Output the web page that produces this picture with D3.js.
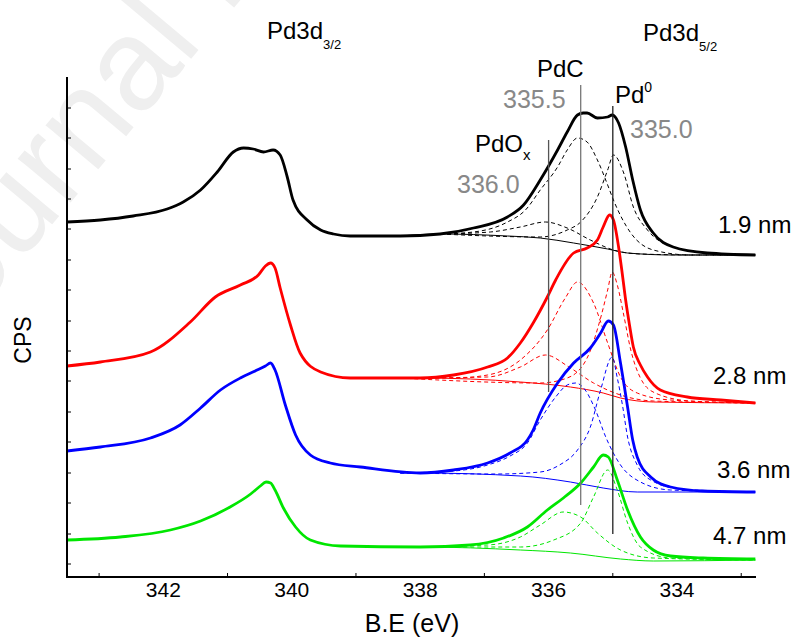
<!DOCTYPE html>
<html>
<head>
<meta charset="utf-8">
<script src="https://cdn.jsdelivr.net/npm/d3@7"></script>
<style>
  body { margin: 0; background: #fff; }
  svg text { font-family: Arial, "Liberation Sans", sans-serif; }
</style>
</head>
<body>
<div id="chart"></div>
<script>
// binding energy (eV) and CPS (arbitrary, offset per film thickness)
const blackTotal = [[343.5,355],[342.98,357],[342.47,361],[341.94,368],[341.69,375],[341.42,387],[341.16,405],[340.91,425],[340.75,429],[340.60,428],[340.44,425],[340.29,427],[340.18,422],[340.07,400],[339.98,377],[339.76,357],[339.55,347],[339.35,343],[339.09,341],[338.31,341],[337.69,343],[337.17,349],[336.64,360],[336.39,372],[336.13,397],[335.86,427],[335.71,445],[335.55,462],[335.46,464],[335.40,464],[335.24,459],[335.08,460],[335.01,462],[334.91,454],[334.80,430],[334.69,397],[334.57,367],[334.37,344],[334.06,330],[333.53,324],[332.78,322]];
const blackBg = [[338.31,341],[337.69,343],[336.64,341],[336.13,339],[335.61,334],[335.08,328],[334.77,324],[334.06,322],[332.78,322]];
const blackPdOx = [[337.69,343],[336.91,345],[336.44,350],[336.05,355],[335.71,349],[335.35,337],[334.99,327],[334.57,323],[333.63,322],[332.78,322]];
const blackPdC = [[337.69,343],[337.17,345],[336.64,355],[336.36,367],[336.13,387],[335.86,410],[335.71,427],[335.55,439],[335.40,435],[335.24,417],[335.08,392],[334.99,377],[334.72,344],[334.37,327],[333.79,322],[332.78,322]];
const blackPd0 = [[337.69,343],[336.13,340],[335.71,347],[335.50,355],[335.24,380],[335.08,407],[334.99,422],[334.83,404],[334.68,370],[334.46,347],[334.06,330],[333.53,324],[332.78,322]];

const redTotal = [[343.5,211],[342.98,215],[342.20,225],[341.58,255],[341.19,280],[340.80,292],[340.52,302],[340.41,311],[340.33,314],[340.26,309],[340.18,289],[340.02,252],[339.87,224],[339.55,205],[339.09,199],[338.0,199],[337.48,202],[336.95,210],[336.64,219],[336.44,234],[336.24,254],[336.02,280],[335.89,297],[335.61,324],[335.40,329],[335.24,337],[335.15,350],[335.05,362],[334.99,357],[334.91,330],[334.85,302],[334.80,277],[334.74,252],[334.68,230],[334.57,212],[334.46,200],[334.26,187],[333.84,180],[333.32,177],[332.78,174]];
const redBg = [[338.31,199],[338.0,199],[336.44,195],[335.66,190],[335.15,184],[334.88,179],[334.37,175],[332.78,174]];
const redPdOx = [[338.31,199],[336.95,200],[336.44,210],[336.05,222],[335.66,209],[335.30,194],[334.88,182],[334.37,176],[332.78,174]];
const redPdC = [[338.31,199],[337.48,199],[336.95,202],[336.44,217],[336.02,247],[335.74,279],[335.55,295],[335.30,274],[335.08,234],[334.88,200],[334.62,184],[334.10,177],[332.78,174]];
const redPd0 = [[338.31,199],[336.13,194],[335.71,199],[335.40,219],[335.19,259],[335.08,287],[335.01,305],[334.93,292],[334.83,262],[334.72,227],[334.57,199],[334.34,184],[333.79,176],[332.78,174]];

const blueTotal = [[343.5,126],[342.98,130],[342.20,139],[341.74,152],[341.42,169],[341.11,187],[340.80,199],[340.57,206],[340.41,211],[340.33,214],[340.26,207],[340.10,172],[339.94,142],[339.71,122],[339.40,114],[338.93,110],[338.0,104],[337.48,107],[336.95,114],[336.60,124],[336.33,137],[336.24,147],[336.13,164],[335.86,194],[335.61,214],[335.35,229],[335.19,244],[335.07,256],[334.99,252],[334.88,214],[334.77,170],[334.69,137],[334.62,120],[334.41,100],[334.10,90],[333.59,86],[332.78,85]];
const blueBg = [[338.31,104],[338.0,104],[336.44,101],[335.66,95],[335.15,89],[334.62,85],[332.78,85]];
const bluePdC = [[338.31,104],[337.48,106],[336.95,112],[336.60,121],[336.33,134],[336.13,157],[335.89,180],[335.71,192],[335.58,194],[335.43,187],[335.27,167],[335.11,140],[334.88,112],[334.57,95],[334.10,87],[332.78,85]];
const bluePd0 = [[338.31,104],[336.80,103],[336.13,105],[335.83,112],[335.55,127],[335.35,150],[335.19,187],[335.01,220],[334.93,199],[334.85,172],[334.77,140],[334.62,112],[334.41,97],[333.95,88],[332.78,85]];

const greenTotal = [[343.5,37],[342.67,40],[341.89,47],[341.42,56],[340.96,70],[340.64,83],[340.49,91],[340.40,95],[340.33,94],[340.26,87],[340.13,69],[339.94,50],[339.71,37],[339.24,31],[338.0,30],[337.22,32],[336.70,39],[336.33,50],[336.02,67],[335.77,79],[335.50,94],[335.30,110],[335.15,122],[335.07,120],[334.93,97],[334.77,67],[334.57,40],[334.37,27],[334.10,21],[333.59,19],[332.78,18]];
const greenBg = [[338.31,30],[338.0,30],[336.44,27],[335.66,24],[334.88,18],[334.37,16],[332.78,17]];
const greenPdC = [[338.31,30],[336.95,32],[336.44,40],[336.13,52],[335.77,65],[335.50,60],[335.24,44],[334.88,27],[334.37,19],[332.78,17]];
const greenPd0 = [[338.31,30],[336.44,30],[335.92,37],[335.50,54],[335.30,80],[335.08,107],[334.93,87],[334.77,54],[334.57,30],[334.10,19],[332.78,17]];

// reference lines: [energy, bottom, top, colour]
const refLines = [[336.0,185,437,"#555"],[335.5,72,492,"#777"],[335.0,43,471,"#222"]];
const xMajorTicks = [342, 340, 338, 336, 334];
const xMinorTicks = [343, 341, 339, 337, 335, 333];
const yTicks = [13, 43, 74, 104, 135, 165, 196, 226, 256, 287, 317, 348, 378, 408, 439, 469];
const thickness = ["1.9 nm", "2.8 nm", "3.6 nm", "4.7 nm"];

function drawChart() {
    const width = 800;
    const height = 639;
    const svg = d3.select("#chart").append("svg")
        .attr("width", width)
        .attr("height", height);

    // faint watermark of the source page
    svg.append("text")
        .attr("transform", "translate(-70,370) rotate(-50)")
        .attr("fill", "#efefef")
        .style("font-size", "130px")
        .text("Journal Pre-proof");

    const x = d3.scaleLinear().domain([343.5, 332.77]).range([67, 756]);
    const y = d3.scaleLinear().domain([0, 500]).range([577, 77]);

    const line = d3.line()
        .x(d => x(d[0]))
        .y(d => y(d[1]))
        .curve(d3.curveMonotoneX);

    const series = [
        { pts: blackBg, color: "#000", w: 1 },
        { pts: blackPdOx, color: "#000", w: 1, dash: "4,3" },
        { pts: blackPdC, color: "#000", w: 1, dash: "4,3" },
        { pts: blackPd0, color: "#000", w: 1, dash: "4,3" },
        { pts: redBg, color: "#f00", w: 1 },
        { pts: redPdOx, color: "#f00", w: 1, dash: "4,3" },
        { pts: redPdC, color: "#f00", w: 1, dash: "4,3" },
        { pts: redPd0, color: "#f00", w: 1, dash: "4,3" },
        { pts: blueBg, color: "#00f", w: 1 },
        { pts: bluePdC, color: "#00f", w: 1, dash: "4,3" },
        { pts: bluePd0, color: "#00f", w: 1, dash: "4,3" },
        { pts: greenBg, color: "#00e600", w: 1 },
        { pts: greenPdC, color: "#00e600", w: 1, dash: "4,3" },
        { pts: greenPd0, color: "#00e600", w: 1, dash: "4,3" },
        { pts: greenTotal, color: "#00e600", w: 2.8 },
        { pts: blueTotal, color: "#00f", w: 2.8 },
        { pts: redTotal, color: "#f00", w: 2.8 },
        { pts: blackTotal, color: "#000", w: 2.8 }
    ];

    svg.append("g").selectAll("path")
        .data(series)
        .enter()
        .append("path")
        .attr("d", d => line(d.pts))
        .attr("fill", "none")
        .attr("stroke", d => d.color)
        .attr("stroke-width", d => d.w)
        .attr("stroke-dasharray", d => d.dash || null)
        .attr("stroke-linejoin", "round");

    // vertical markers
    svg.append("g").selectAll("line")
        .data(refLines)
        .enter()
        .append("line")
        .attr("x1", d => x(d[0]))
        .attr("x2", d => x(d[0]))
        .attr("y1", d => y(d[1]))
        .attr("y2", d => y(d[2]))
        .attr("stroke", d => d[3])
        .attr("stroke-width", 1.3);

    // axes
    const xAxis = svg.append("g").attr("transform", "translate(0,577)");
    xAxis.append("line")
        .attr("x1", 66).attr("x2", 756)
        .attr("stroke", "#000").attr("stroke-width", 2);
    xAxis.selectAll(".minor")
        .data(xMinorTicks)
        .enter()
        .append("line")
        .attr("x1", d => x(d)).attr("x2", d => x(d))
        .attr("y1", 0).attr("y2", -4)
        .attr("stroke", "#000");
    xAxis.selectAll(".lbl")
        .data(xMajorTicks)
        .enter()
        .append("text")
        .attr("x", d => x(d))
        .attr("y", 20)
        .attr("text-anchor", "middle")
        .style("font-size", "21px")
        .text(d => d);

    const yAxis = svg.append("g").attr("transform", "translate(67,0)");
    yAxis.append("line")
        .attr("y1", 77).attr("y2", 578)
        .attr("stroke", "#000").attr("stroke-width", 2);
    yAxis.selectAll(".tick")
        .data(yTicks)
        .enter()
        .append("line")
        .attr("y1", d => y(d)).attr("y2", d => y(d))
        .attr("x1", 0).attr("x2", 4)
        .attr("stroke", "#000");

    svg.append("text")
        .attr("x", 412).attr("y", 632)
        .attr("text-anchor", "middle")
        .style("font-size", "25px")
        .text("B.E (eV)");

    svg.append("text")
        .attr("transform", "translate(31,340) rotate(-90)")
        .attr("text-anchor", "middle")
        .style("font-size", "23px")
        .text("CPS");

    // peak region titles
    const title = (tx, ty, main, sub) => {
        const t = svg.append("text").attr("x", tx).attr("y", ty).style("font-size", "24px");
        t.append("tspan").text(main);
        t.append("tspan").attr("dy", 10).style("font-size", "13px").text(sub);
    };
    title(267, 39, "Pd3d", "3/2");
    title(643, 41, "Pd3d", "5/2");

    svg.append("text").attr("x", 537).attr("y", 77).style("font-size", "24px").text("PdC");
    const pd0 = svg.append("text").attr("x", 615).attr("y", 103).style("font-size", "24px");
    pd0.append("tspan").text("Pd");
    pd0.append("tspan").attr("dy", -11).style("font-size", "14px").text("0");
    const pdox = svg.append("text").attr("x", 475).attr("y", 152).style("font-size", "24px");
    pdox.append("tspan").text("PdO");
    pdox.append("tspan").attr("dy", 8).style("font-size", "15px").text("x");

    // energies of the components
    const energies = [[503, 108, "335.5"], [630, 138, "335.0"], [457, 193, "336.0"]];
    svg.append("g").selectAll("text")
        .data(energies)
        .enter()
        .append("text")
        .attr("x", d => d[0]).attr("y", d => d[1])
        .attr("fill", "#888")
        .style("font-size", "25px")
        .text(d => d[2]);

    // film thickness labels
    const labelPos = [[718, 233], [713, 384], [717, 478], [713, 544]];
    svg.append("g").selectAll("text")
        .data(thickness)
        .enter()
        .append("text")
        .attr("x", (d, i) => labelPos[i][0])
        .attr("y", (d, i) => labelPos[i][1])
        .style("font-size", "24px")
        .text(d => d);
}

drawChart();
</script>
</body>
</html>
